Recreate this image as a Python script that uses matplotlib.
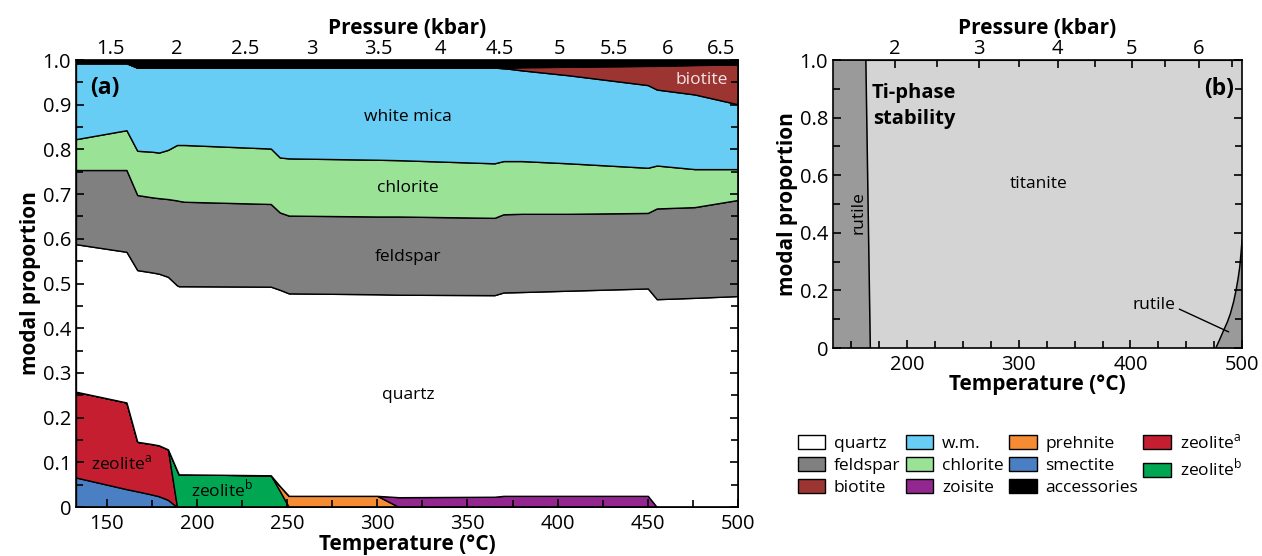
import matplotlib.pyplot as plt
from matplotlib.patches import Patch
from matplotlib.ticker import MultipleLocator

plt.rcParams['font.family'] = ['Open Sans', 'DejaVu Sans']
plt.rcParams['mathtext.fontset'] = 'custom'
plt.rcParams['mathtext.rm'] = 'Open Sans'

# modal proportions along the P-T path
temp = [133, 161, 167, 175, 179, 184, 189, 190, 193, 241, 246, 251,
        300, 312, 365, 370, 380, 406, 450, 455, 476, 500]
smectite = [0.066, 0.040, 0.035, 0.028, 0.024, 0.016, 0, 0, 0, 0, 0,
            0, 0, 0, 0, 0, 0, 0, 0, 0, 0, 0]
zeolite_a = [0.192, 0.194, 0.111, 0.113, 0.114, 0.113, 0, 0, 0, 0, 0,
             0, 0, 0, 0, 0, 0, 0, 0, 0, 0, 0]
zeolite_b = [0, 0, 0, 0, 0, 0, 0.082, 0.073, 0.073, 0.071, 0.036,
             0, 0, 0, 0, 0, 0, 0, 0, 0, 0, 0]
prehnite = [0, 0, 0, 0, 0, 0, 0, 0, 0, 0, 0.011,
            0.025, 0.025, 0, 0, 0, 0, 0, 0, 0, 0, 0]
zoisite = [0, 0, 0, 0, 0, 0, 0, 0, 0, 0, 0,
           0, 0, 0.022, 0.023, 0.025, 0.025, 0.025, 0.025, 0, 0, 0]
quartz = [0.330, 0.337, 0.384, 0.384, 0.384, 0.386, 0.414, 0.421, 0.421, 0.422, 0.439,
          0.453, 0.451, 0.453, 0.451, 0.455, 0.456, 0.459, 0.464, 0.465, 0.468, 0.472]
feldspar = [0.166, 0.183, 0.168, 0.168, 0.169, 0.174, 0.190, 0.191, 0.189, 0.185, 0.173,
            0.174, 0.174, 0.175, 0.173, 0.175, 0.175, 0.172, 0.169, 0.203, 0.203, 0.215]
chlorite = [0.069, 0.089, 0.099, 0.102, 0.102, 0.110, 0.124, 0.125, 0.127, 0.124, 0.123,
            0.128, 0.127, 0.126, 0.122, 0.119, 0.118, 0.113, 0.101, 0.096, 0.085, 0.069]
white_mica = [0.170, 0.150, 0.186, 0.188, 0.190, 0.184, 0.173, 0.173, 0.173, 0.181, 0.201,
              0.203, 0.206, 0.207, 0.214, 0.208, 0.203, 0.197, 0.185, 0.170, 0.167, 0.145]
biotite = [0, 0, 0, 0, 0, 0, 0, 0, 0, 0, 0,
           0, 0, 0, 0, 0, 0.007, 0.019, 0.043, 0.053, 0.066, 0.089]
accessories = [0.007, 0.007, 0.017, 0.017, 0.017, 0.017, 0.017, 0.017, 0.017, 0.017, 0.017,
               0.017, 0.017, 0.017, 0.017, 0.018, 0.016, 0.015, 0.013, 0.013, 0.011, 0.010]

# pressure ticks placed at the temperature where the path reaches them
pressure_kbar = ['1.5', '2', '2.5', '3', '3.5', '4', '4.5', '5', '5.5', '6', '6.5']
pressure_temp = [152, 189, 227, 264, 300.5, 335, 368, 401, 431, 461, 490.6]

# Ti-phase fields (panel b)
rutile_low_v = [0, 1]
rutile_low_t = [167, 163]
rutile_high_v = [0, 0.03, 0.057, 0.09, 0.12, 0.16, 0.2, 0.24, 0.28, 0.33, 0.375]
rutile_high_t = [476.5, 480, 483, 486.8, 489.6, 492.4, 494.6, 496.4, 497.9, 499.1, 500]

c_quartz = 'white'
c_fsp = '#808080'
c_bt = '#9c3532'
c_wm = '#68cdf4'
c_chl = '#9ae396'
c_zo = '#93278f'
c_prh = '#f58b33'
c_sme = '#4a7fc4'
c_acc = 'black'
c_zeo_a = '#c41e30'
c_zeo_b = '#00a651'

TICK_FS = 14.5
LABEL_FS = 15
TEXT_FS = 12.5

fig = plt.figure(figsize=(12.62, 5.56), dpi=100)
ax = fig.add_axes([0.0602, 0.0881, 0.5246, 0.8039])

ax.stackplot(temp, smectite, zeolite_a, zeolite_b, prehnite, zoisite, quartz,
             feldspar, chlorite, white_mica, biotite, accessories,
             colors=[c_sme, c_zeo_a, c_zeo_b, c_prh, c_zo, c_quartz,
                     c_fsp, c_chl, c_wm, c_bt, c_acc],
             edgecolor='black', linewidth=1.0)
ax.set_xlim(133, 500)
ax.set_ylim(0, 1)
ax.set_yticks([i / 10 for i in range(11)])
ax.set_yticklabels(['0'] + ['%.1f' % (i / 10) for i in range(1, 11)])
ax.yaxis.set_minor_locator(MultipleLocator(0.05))
ax.set_xticks([150, 200, 250, 300, 350, 400, 450, 500])
ax.xaxis.set_minor_locator(MultipleLocator(25))
ax.tick_params(which='both', direction='in', right=True, labelsize=TICK_FS, width=1.2)
ax.tick_params(axis='x', pad=5)
ax.tick_params(which='major', length=6)
ax.tick_params(which='minor', length=5)
ax.set_xlabel('Temperature (°C)', fontsize=LABEL_FS, fontweight='bold', labelpad=0)
ax.set_ylabel('modal proportion', fontsize=LABEL_FS, fontweight='bold', labelpad=1)
for s in ax.spines.values():
    s.set_linewidth(1.2)

top = ax.secondary_xaxis('top')
top.set_xticks(pressure_temp, labels=pressure_kbar)
top.tick_params(direction='in', labelsize=TICK_FS, length=6, width=1.2, pad=1)
top.set_xlabel('Pressure (kbar)', fontsize=LABEL_FS, fontweight='bold', labelpad=3)

ax.text(141, 0.937, '(a)', fontsize=16.5, fontweight='bold', va='center')
ax.text(317, 0.872, 'white mica', fontsize=TEXT_FS, ha='center', va='center')
ax.text(317, 0.714, 'chlorite', fontsize=TEXT_FS, ha='center', va='center')
ax.text(317, 0.559, 'feldspar', fontsize=TEXT_FS, ha='center', va='center')
ax.text(317, 0.250, 'quartz', fontsize=TEXT_FS, ha='center', va='center')
ax.text(480, 0.955, 'biotite', fontsize=TEXT_FS, ha='center', va='center', color='#f3e6e6')
ax.text(158, 0.097, r'zeolite$^{\mathrm{a}}$', fontsize=TEXT_FS, ha='center', va='center')
ax.text(214, 0.040, r'zeolite$^{\mathrm{b}}$', fontsize=TEXT_FS, ha='center', va='center')

# panel b
bx = fig.add_axes([0.660, 0.374, 0.3242, 0.518])
bx.set_facecolor('#d4d4d4')
bx.fill_betweenx(rutile_low_v, 133.5, rutile_low_t, color='#9a9a9a', lw=0)
bx.plot(rutile_low_t, rutile_low_v, color='black', lw=1.1)
bx.fill_betweenx(rutile_high_v, rutile_high_t, 500, color='#9a9a9a', lw=0)
bx.plot(rutile_high_t, rutile_high_v, color='black', lw=1.1)
bx.set_xlim(133.5, 500)
bx.set_ylim(0, 1)
bx.set_yticks([0, 0.2, 0.4, 0.6, 0.8, 1.0])
bx.set_yticklabels(['0', '0.2', '0.4', '0.6', '0.8', '1.0'])
bx.yaxis.set_minor_locator(MultipleLocator(0.1))
bx.set_xticks([200, 300, 400, 500])
bx.xaxis.set_minor_locator(MultipleLocator(25))
bx.tick_params(which='both', direction='in', right=True, labelsize=TICK_FS, width=1.2)
bx.tick_params(axis='x', pad=5)
bx.tick_params(which='major', length=6)
bx.tick_params(which='minor', length=5)
bx.set_xlabel('Temperature (°C)', fontsize=LABEL_FS, fontweight='bold', labelpad=-1)
bx.set_ylabel('modal proportion', fontsize=LABEL_FS, fontweight='bold', labelpad=1)
for s in bx.spines.values():
    s.set_linewidth(1.2)

btop = bx.secondary_xaxis('top')
btop.set_xticks([pressure_temp[i] for i in (1, 3, 5, 7, 9)],
                labels=[pressure_kbar[i] for i in (1, 3, 5, 7, 9)])
btop.set_xticks([pressure_temp[i] for i in (0, 2, 4, 6, 8, 10)], minor=True)
btop.tick_params(which='both', direction='in', labelsize=TICK_FS, width=1.2, pad=1)
btop.tick_params(which='major', length=6)
btop.tick_params(which='minor', length=5)
btop.set_xlabel('Pressure (kbar)', fontsize=LABEL_FS, fontweight='bold', labelpad=3)

bx.text(206, 0.84, 'Ti-phase\nstability', fontsize=14.5, fontweight='bold',
        va='center', ha='center', multialignment='center', linespacing=1.4)
bx.text(493, 0.9, '(b)', fontsize=16.5, fontweight='bold', ha='right', va='center')
bx.text(318, 0.57, 'titanite', fontsize=TEXT_FS, ha='center', va='center')
bx.text(156, 0.47, 'rutile', fontsize=TEXT_FS, ha='center', va='center', rotation=90)
bx.annotate('rutile', xy=(488, 0.056), xytext=(421, 0.15), fontsize=TEXT_FS,
            ha='center', va='center',
            arrowprops=dict(arrowstyle='-', color='black', lw=1.0,
                            relpos=(1.0, 0.35), shrinkA=1, shrinkB=0))

handles = [
    Patch(facecolor=c_quartz, edgecolor='black', label='quartz'),
    Patch(facecolor=c_fsp, edgecolor='black', label='feldspar'),
    Patch(facecolor=c_bt, edgecolor='black', label='biotite'),
    Patch(facecolor=c_wm, edgecolor='black', label='w.m.'),
    Patch(facecolor=c_chl, edgecolor='black', label='chlorite'),
    Patch(facecolor=c_zo, edgecolor='black', label='zoisite'),
    Patch(facecolor=c_prh, edgecolor='black', label='prehnite'),
    Patch(facecolor=c_sme, edgecolor='black', label='smectite'),
    Patch(facecolor=c_acc, edgecolor='black', label='accessories'),
    Patch(facecolor=c_zeo_a, edgecolor='black', label=r'zeolite$^{\mathrm{a}}$'),
    Patch(facecolor=c_zeo_b, edgecolor='black', label=r'zeolite$^{\mathrm{b}}$'),
]
fig.legend(handles=handles, ncol=4, loc='center', bbox_to_anchor=(0.808, 0.164),
           frameon=False, fontsize=TEXT_FS, handlelength=1.6, handleheight=0.85,
           handletextpad=0.5, columnspacing=0.3, labelspacing=0.3,
           borderaxespad=0)

fig.savefig('out.png', dpi=100)
